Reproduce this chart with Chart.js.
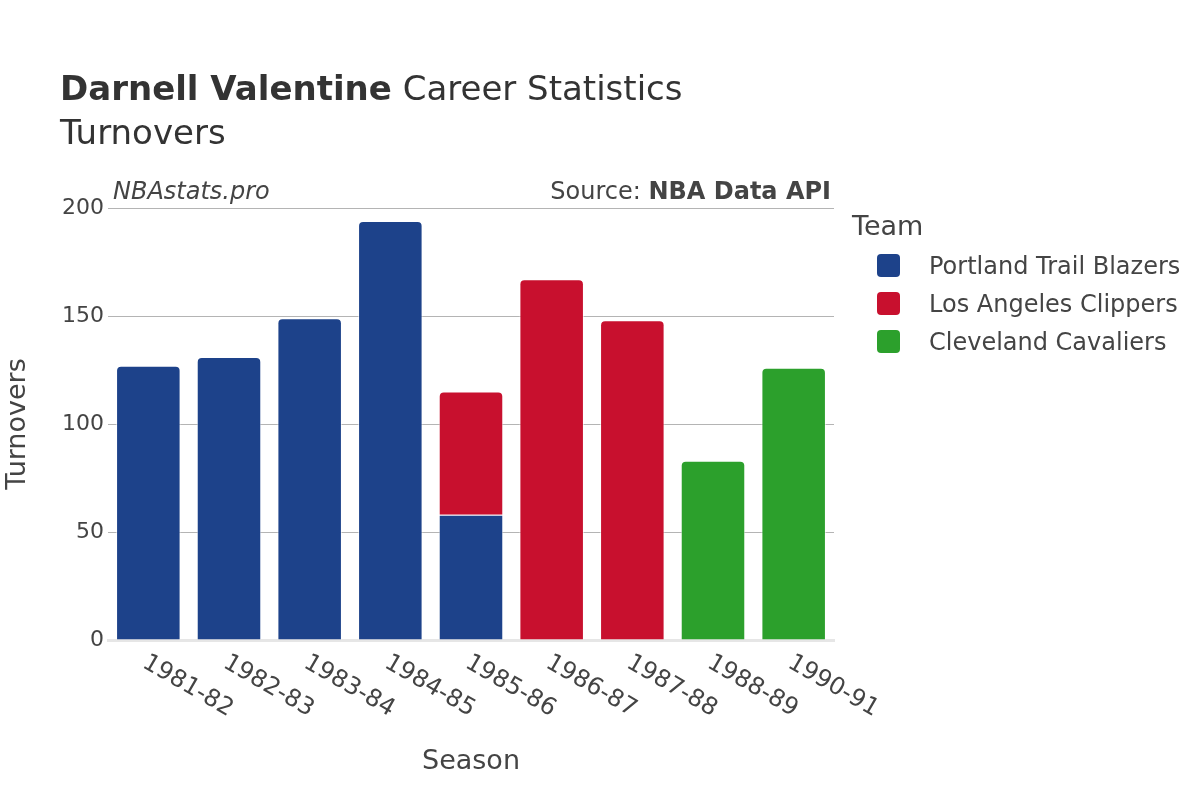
<!DOCTYPE html>
<html>
<head>
<meta charset="utf-8">
<script src="https://cdn.jsdelivr.net/npm/chart.js@4.4.1/dist/chart.umd.min.js"></script>
<style>
  html, body { margin: 0; padding: 0; background: #fff; }
  #wrap { position: relative; width: 1200px; height: 800px; font-family: "DejaVu Sans", sans-serif; color: #444; }
  #wrap canvas { position: absolute; left: 0; top: 0; }
  .txt { position: absolute; white-space: nowrap; }
  #title { left: 60px; top: 68px; font-size: 34px; color: #333; line-height: 40px; }
  #subtitle { left: 60px; top: 112px; font-size: 34px; color: #333; line-height: 40px; }
  #brand { left: 113px; top: 176px; font-size: 24px; font-style: italic; line-height: 30px; }
  #source { right: 369px; top: 176px; font-size: 24px; line-height: 30px; }
  #legend { left: 852px; top: 208px; }
  #legend .head { font-size: 27px; line-height: 36px; margin-bottom: 3px; }
  #legend .item { position: relative; height: 38px; line-height: 38px; font-size: 24px; padding-left: 77px; }
  #legend .box { position: absolute; left: 25px; top: 7px; width: 23px; height: 23px; border-radius: 4px; }
</style>
</head>
<body>
<div id="wrap">
  <canvas id="chart" width="1200" height="800"></canvas>
  <div class="txt" id="title"><b>Darnell Valentine</b> Career Statistics</div>
  <div class="txt" id="subtitle">Turnovers</div>
  <div class="txt" id="brand">NBAstats.pro</div>
  <div class="txt" id="source">Source: <b>NBA Data API</b></div>
  <div class="txt" id="legend"></div>
</div>
<script>
// ---- data ----
const seasons   = ["1981-82", "1982-83", "1983-84", "1984-85", "1985-86", "1986-87", "1987-88", "1988-89", "1990-91"];
const teams     = ["Portland Trail Blazers", "Los Angeles Clippers", "Cleveland Cavaliers"];
const teamColors = ["#1d428a", "#c8102e", "#2ca02c"];
const portland  = [127, 131, 149, 194, 58, null, null, null, null];
const clippers  = [null, null, null, null, 57, 167, 148, null, null];
const cavaliers = [null, null, null, null, null, null, null, 83, 126];
const yTicks    = [0, 50, 100, 150, 200];

// legend
const legendEl = document.getElementById("legend");
legendEl.innerHTML = `<div class="head">Team</div>` + teams.map((t, i) =>
  `<div class="item"><span class="box" style="background:${teamColors[i]}"></span>${t}</div>`
).join("");

// rotated season labels (+30deg, anchored at start)
const seasonLabels = {
  id: "seasonLabels",
  afterDraw(chart) {
    const ctx = chart.ctx;
    const xs = chart.scales.x;
    ctx.save();
    ctx.font = "24px 'DejaVu Sans'";
    ctx.fillStyle = "#444";
    ctx.textAlign = "left";
    ctx.textBaseline = "middle";
    seasons.forEach((s, i) => {
      const x = xs.getPixelForValue(i);
      ctx.save();
      ctx.translate(x - 4, 661);
      ctx.rotate(Math.PI / 6);
      ctx.fillText(s, 0, 0);
      ctx.restore();
    });
    ctx.restore();
  }
};

const series = [portland, clippers, cavaliers];

new Chart(document.getElementById("chart"), {
  type: "bar",
  data: {
    labels: seasons,
    datasets: teams.map((t, i) => ({
      label: t,
      data: series[i],
      backgroundColor: teamColors[i],
      borderColor: "rgba(255,255,255,0.6)",
      borderWidth: 1,
      borderRadius: 5,
      borderSkipped: "start",
      barPercentage: 0.8,
      categoryPercentage: 1
    }))
  },
  options: {
    responsive: false,
    animation: false,
    layout: { padding: { top: 208, right: 366, left: 0, bottom: 0 } },
    plugins: { legend: { display: false }, tooltip: { enabled: false } },
    scales: {
      x: {
        stacked: true,
        grid: { display: false },
        border: { display: true, color: "#e6e6e6", width: 3 },
        ticks: { display: false },
        title: { display: true, text: "Season", color: "#444", font: { family: "DejaVu Sans", size: 27 }, padding: { bottom: 22 } },
        afterFit(scale) { scale.height = 160; }
      },
      y: {
        stacked: true,
        min: 0,
        max: 200,
        afterBuildTicks(scale) { scale.ticks = yTicks.map(v => ({ value: v })); },
        grid: {
          color: ctx => ctx.tick && ctx.tick.value === 0 ? "rgba(0,0,0,0)" : "#b4b4b4",
          lineWidth: 1,
          drawTicks: false
        },
        border: { display: false },
        ticks: { color: "#444", font: { family: "DejaVu Sans", size: 22 }, padding: 4 },
        title: { display: true, text: "Turnovers", color: "#444", font: { family: "DejaVu Sans", size: 27 }, padding: { top: 2 } },
        afterFit(scale) { scale.width = 108; }
      }
    }
  },
  plugins: [seasonLabels]
});
</script>
</body>
</html>
